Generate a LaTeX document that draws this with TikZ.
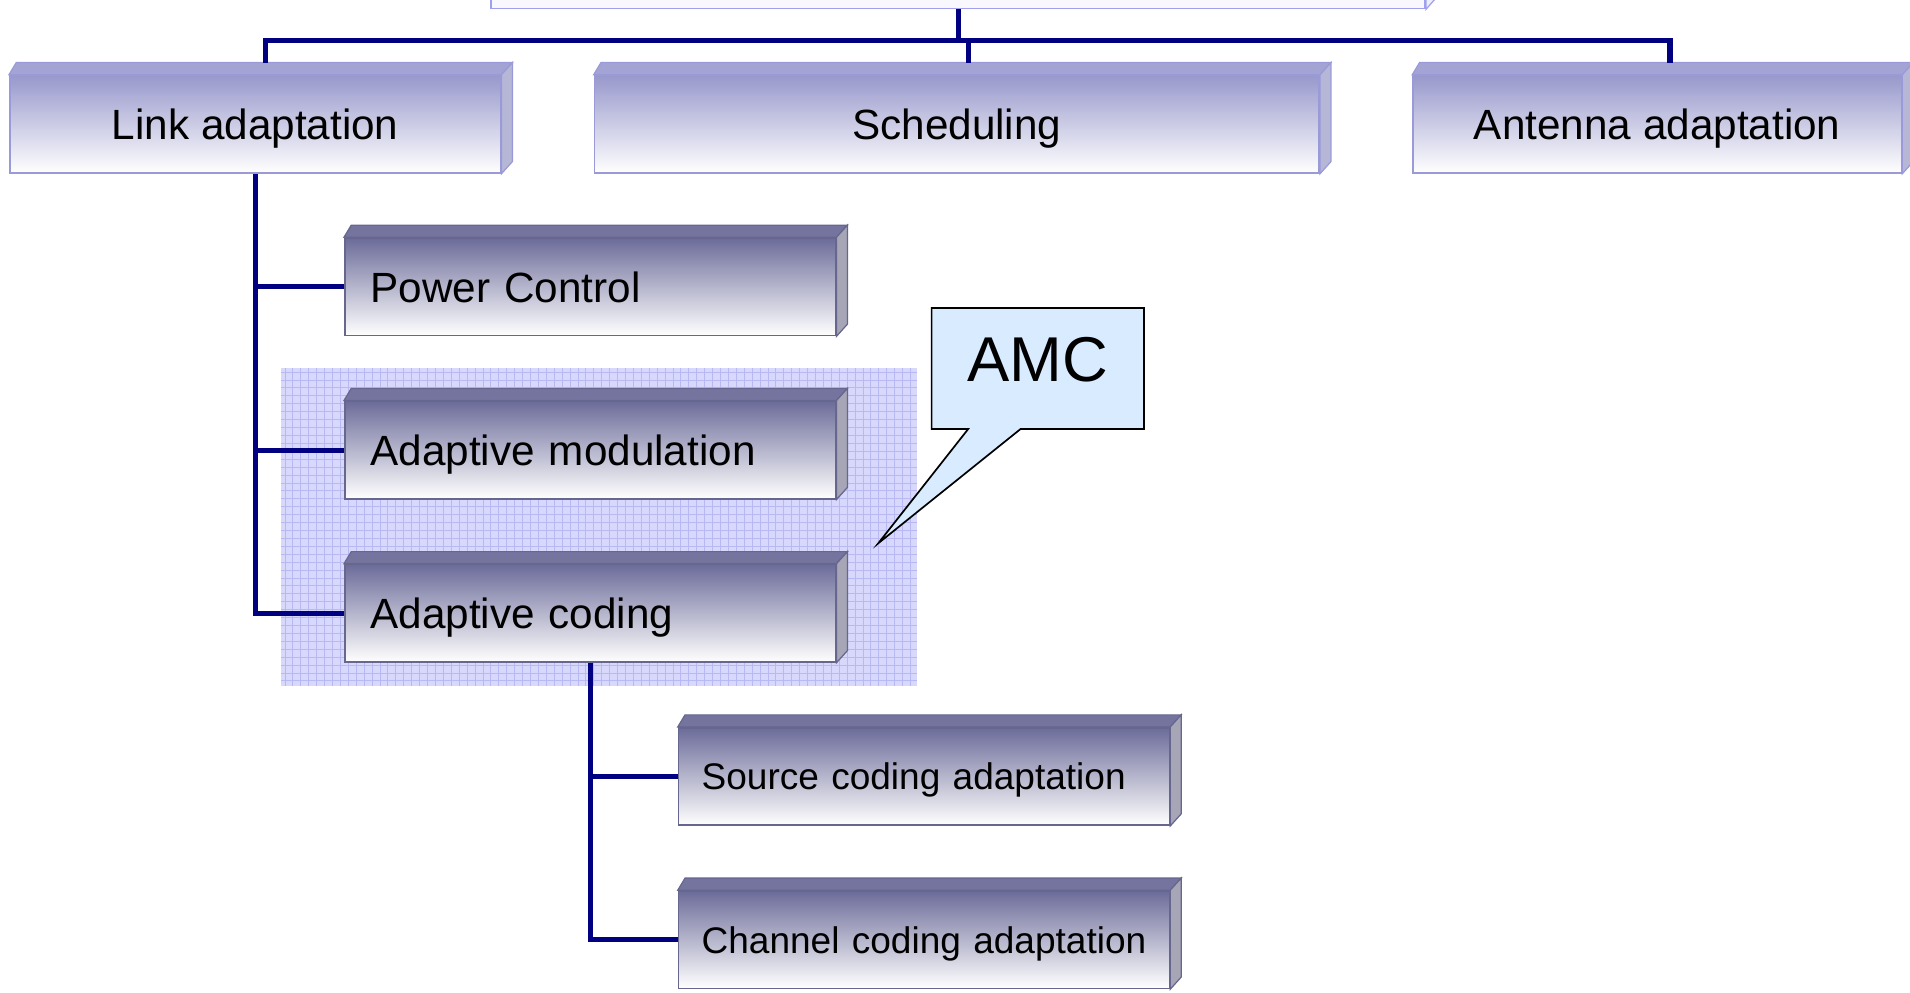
\documentclass[tikz,border=0pt]{standalone}
\usepackage{fontspec}
\setmainfont{Liberation Sans}
\usetikzlibrary{calc}

\definecolor{navyline}{HTML}{000080}
\definecolor{upperfront}{HTML}{9898CC}
\definecolor{upperedge}{HTML}{9A9AD8}
\definecolor{uppertopface}{HTML}{A4A4D4}
\definecolor{uppersideface}{HTML}{B6B6D6}
\definecolor{lowerfront}{HTML}{6C6C9A}
\definecolor{loweredge}{HTML}{66668F}
\definecolor{lowertopface}{HTML}{74749F}
\definecolor{lowersideface}{HTML}{A6A6B6}
\definecolor{rootfill}{HTML}{F8F8FE}
\definecolor{rootedge}{HTML}{A0A0EE}
\definecolor{hilitefill}{HTML}{D8D8FC}
\definecolor{hilitegrid}{HTML}{B8B8F2}
\definecolor{calloutfill}{HTML}{D9ECFF}

% slanted top and side faces behind a box node
\newcommand{\bevelfaces}[2]{%
  \filldraw[#2 top] (#1.north west) -- ++(6,-10) -- ($(#1.north east)+(9,-10)$) -- (#1.north east) -- cycle;
  \filldraw[#2 side] (#1.north east) -- ++(9,-10) -- ($(#1.south east)+(9,-10)$) -- (#1.south east) -- cycle;
}

\begin{document}
\begin{tikzpicture}[x=1pt,y=-1pt,
  conn/.style={draw=navyline, line width=4.2pt},
  txtA/.style={font=\fontsize{34.7}{40}\selectfont, text depth=0pt},
  txtB/.style={font=\fontsize{30.4}{36}\selectfont, text depth=0pt},
  upperbox/.style={rectangle, minimum height=80, inner sep=0pt, draw=upperedge, line width=1.3pt,
    top color=upperfront, bottom color=white, txtA},
  lowerbox/.style={rectangle, minimum width=403, minimum height=80, inner ysep=0pt, draw=loweredge, line width=1.3pt,
    top color=lowerfront, bottom color=white},
  lowerA/.style={lowerbox, txtA, inner xsep=21pt, text width=361pt, align=left},
  lowerB/.style={lowerbox, txtB, inner xsep=19pt, text width=365pt, align=left},
  upper top/.style={fill=uppertopface, draw=upperedge, line width=1pt},
  upper side/.style={fill=uppersideface, draw=upperedge, line width=1pt},
  lower top/.style={fill=lowertopface, draw=loweredge, line width=1pt},
  lower side/.style={fill=lowersideface, draw=loweredge, line width=1pt},
  rootbox/.style={rectangle, minimum width=767, minimum height=80, draw=rootedge, line width=1.3pt, fill=rootfill},
  calloutshape/.style={fill=calloutfill, draw=black, line width=1.4pt, line join=miter},
]
\useasboundingbox (0,0) rectangle (1568,815);

% shaded area grouping the AMC boxes
\fill[hilitefill] (231,302) rectangle (753,563);
\draw[hilitegrid, line width=0.8pt, step=6.5pt] (231,563) grid (753,302);

% root box, mostly above the page
\node[rootbox] (root) at (786.5,-33) {};
\filldraw[upper side, draw=rootedge, fill=rootfill!85!uppersideface] (root.north east) -- ++(7,-8) -- ($(root.south east)+(7,-8)$) -- (root.south east) -- cycle;

% first level
\node[upperbox, minimum width=403] (link) at (209.5,102) {Link adaptation};
\node[upperbox, minimum width=595] (sched) at (785.5,102) {Scheduling};
\node[upperbox, minimum width=401] (ant) at (1360.5,102) {Antenna adaptation};
\bevelfaces{link}{upper}
\bevelfaces{sched}{upper}
\bevelfaces{ant}{upper}

% second level
\node[lowerA] (power) at (484.5,235.5) {\mbox{Power Control}};
\node[lowerA] (modul) at (484.5,369.5) {\mbox{Adaptive modulation}};
\node[lowerA] (coding) at (484.5,503.5) {\mbox{Adaptive coding}};
\bevelfaces{power}{lower}
\bevelfaces{modul}{lower}
\bevelfaces{coding}{lower}

% third level
\node[lowerB] (src) at (758.5,637.5) {\mbox{Source coding adaptation}};
\node[lowerB] (chan) at (758.5,771.5) {\mbox{Channel coding adaptation}};
\bevelfaces{src}{lower}
\bevelfaces{chan}{lower}

% tree connectors
\coordinate (bus) at (786,33);
\coordinate (linktop) at ($(link.north)+(8.5,-10)$);
\coordinate (schedtop) at ($(sched.north)+(9.5,-10)$);
\coordinate (anttop) at ($(ant.north)+(10.5,-10)$);
\draw[conn] (root.south) -- (root.south |- bus);
\draw[conn] (linktop) -- (linktop |- bus) -- (anttop |- bus) -- (anttop);
\draw[conn] (schedtop) -- (schedtop |- bus);

\draw[conn] (link.south) |- (coding.west);
\draw[conn] (link.south |- power.west) -- (power.west);
\draw[conn] (link.south |- modul.west) -- (modul.west);

\draw[conn] (coding.south) |- (chan.west);
\draw[conn] (coding.south |- src.west) -- (src.west);

% AMC callout
\node[minimum width=174, minimum height=99, inner sep=0pt] (amcbox) at (852,302.5) {};
\coordinate (amctip) at (721,446);
\filldraw[calloutshape] (amcbox.north west) -- (amcbox.north east) -- (amcbox.south east)
  -- ($(amcbox.south west)+(73,0)$) -- (amctip) -- ($(amcbox.south west)+(30,0)$) -- (amcbox.south west) -- cycle;
\node[font=\fontsize{52}{60}\selectfont, inner sep=0pt] (amc) at ($(amcbox.center)+(0,-7.5)$) {AMC};
\end{tikzpicture}
\end{document}
